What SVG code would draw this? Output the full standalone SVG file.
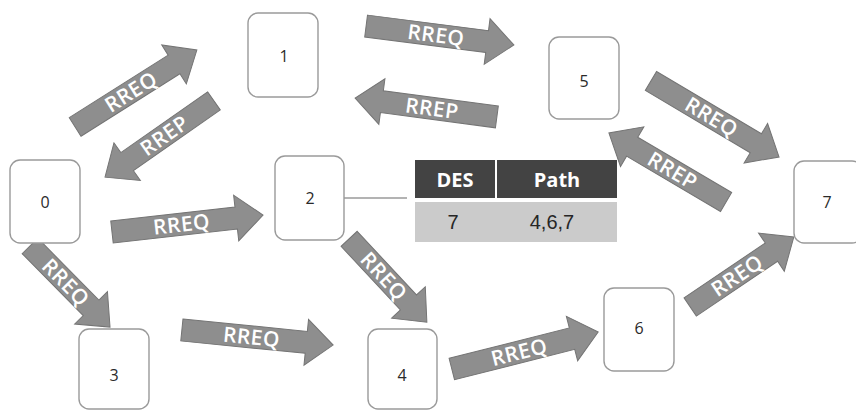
<svg xmlns="http://www.w3.org/2000/svg" width="856" height="411" viewBox="0 0 856 411">
  <style>
    .box { fill: #ffffff; stroke: #9a9a9a; stroke-width: 1.4; }
    .num { font-family: "Open Sans", "Noto Sans", sans-serif; font-size: 16px; fill: #2a2a2a; text-anchor: middle; }
    .arr { fill: #8e8e8e; stroke: #747474; stroke-width: 1; }
    .lbl { font-family: "Open Sans", "Liberation Sans", sans-serif; font-size: 21px; font-weight: 600; fill: #ffffff; text-anchor: middle; letter-spacing: 0.5px; }
    .th { fill: #434343; }
    .td { fill: #cbcbcb; }
    .thtxt { font-family: "Open Sans", "Liberation Sans", sans-serif; font-size: 20px; font-weight: 700; fill: #ffffff; text-anchor: middle; }
    .tdtxt { font-family: "Liberation Sans", "Open Sans", sans-serif; font-size: 20px; fill: #262626; text-anchor: middle; }
    .link { stroke: #9a9a9a; stroke-width: 1.3; fill: none; }
  </style>

  <rect width="856" height="411" fill="#ffffff"/>

  <!-- block arrows carrying route request / reply messages -->
  <g id="connectors">
    <g transform="translate(136,88.5) rotate(-32.3)">
      <path class="arr" d="M-72,-11H45V-23L72,0L45,23V11H-72Z"/>
      <text class="lbl" x="-6" y="7.5">RREQ</text>
    </g>
    <g transform="translate(159.5,139) rotate(-35)">
      <path class="arr" d="M66.5,-11H-39.5V-23L-66.5,0L-39.5,23V11H66.5Z"/>
      <text class="lbl" x="6" y="7.5">RREP</text>
    </g>
    <g transform="translate(440,35.5) rotate(7.3)">
      <path class="arr" d="M-74.5,-11H47.5V-23L74.5,0L47.5,23V11H-74.5Z"/>
      <text class="lbl" x="-4" y="7.5">RREQ</text>
    </g>
    <g transform="translate(426,107.5) rotate(7.6)">
      <path class="arr" d="M71.5,-11H-44.5V-23L-71.5,0L-44.5,23V11H71.5Z"/>
      <text class="lbl" x="6" y="7.5">RREP</text>
    </g>
    <g transform="translate(715,119) rotate(30.7)">
      <path class="arr" d="M-74.5,-11H47.5V-23L74.5,0L47.5,23V11H-74.5Z"/>
      <text class="lbl" x="-4" y="7.5">RREQ</text>
    </g>
    <g transform="translate(667.5,167.5) rotate(30.5)">
      <path class="arr" d="M68,-11H-41V-23L-68,0L-41,23V11H68Z"/>
      <text class="lbl" x="6" y="7.5">RREP</text>
    </g>
    <g transform="translate(187.5,223.5) rotate(-6.4)">
      <path class="arr" d="M-76,-11H49V-23L76,0L49,23V11H-76Z"/>
      <text class="lbl" x="-6" y="7.5">RREQ</text>
    </g>
    <g transform="translate(70,286.5) rotate(45.4)">
      <path class="arr" d="M-57,-11H30V-23L57,0L30,23V11H-57Z"/>
      <text class="lbl" x="-6" y="7.5">RREQ</text>
    </g>
    <g transform="translate(257.5,337.5) rotate(5.7)">
      <path class="arr" d="M-76,-11H49V-23L76,0L49,23V11H-76Z"/>
      <text class="lbl" x="-6" y="7.5">RREQ</text>
    </g>
    <g transform="translate(388,280.5) rotate(47)">
      <path class="arr" d="M-57,-11H30V-23L57,0L30,23V11H-57Z"/>
      <text class="lbl" x="-6" y="7.5">RREQ</text>
    </g>
    <g transform="translate(525,350.5) rotate(-14.2)">
      <path class="arr" d="M-75.5,-11H48.5V-23L75.5,0L48.5,23V11H-75.5Z"/>
      <text class="lbl" x="-6" y="7.5">RREQ</text>
    </g>
    <g transform="translate(742,272) rotate(-34)">
      <path class="arr" d="M-62.5,-11H35.5V-23L62.5,0L35.5,23V11H-62.5Z"/>
      <text class="lbl" x="-6" y="7.5">RREQ</text>
    </g>
    <!-- node 2 to its routing table -->
    <line class="link" x1="344" y1="198" x2="407" y2="198"/>
  </g>

  <!-- network nodes -->
  <g id="node-0"><rect class="box" x="10" y="160" width="70" height="83" rx="10"/><text class="num" x="45" y="208">0</text></g>
  <g id="node-1"><rect class="box" x="248" y="13" width="70" height="84" rx="10"/><text class="num" x="284" y="62">1</text></g>
  <g id="node-2"><rect class="box" x="275" y="156" width="69" height="84" rx="10"/><text class="num" x="310" y="204">2</text></g>
  <g id="node-3"><rect class="box" x="79" y="329" width="70" height="80" rx="10"/><text class="num" x="114" y="381">3</text></g>
  <g id="node-4"><rect class="box" x="368" y="329" width="69" height="80" rx="10"/><text class="num" x="402" y="381">4</text></g>
  <g id="node-5"><rect class="box" x="549" y="37" width="70" height="82" rx="10"/><text class="num" x="584" y="87">5</text></g>
  <g id="node-6"><rect class="box" x="604" y="288" width="70" height="83" rx="10"/><text class="num" x="639" y="334">6</text></g>
  <g id="node-7"><rect class="box" x="794" y="161" width="68" height="82" rx="10"/><text class="num" x="827" y="208">7</text></g>

  <!-- routing table held at node 2 -->
  <g id="route-table">
    <rect class="th" x="415" y="160" width="80" height="38"/>
    <rect class="th" x="497" y="160" width="120" height="38"/>
    <rect class="td" x="415" y="202" width="202" height="40"/>
    <text class="thtxt" x="455" y="187">DES</text>
    <text class="thtxt" x="557" y="187">Path</text>
    <text class="tdtxt" x="453" y="229">7</text>
    <text class="tdtxt" x="552" y="229">4,6,7</text>
  </g>
</svg>
